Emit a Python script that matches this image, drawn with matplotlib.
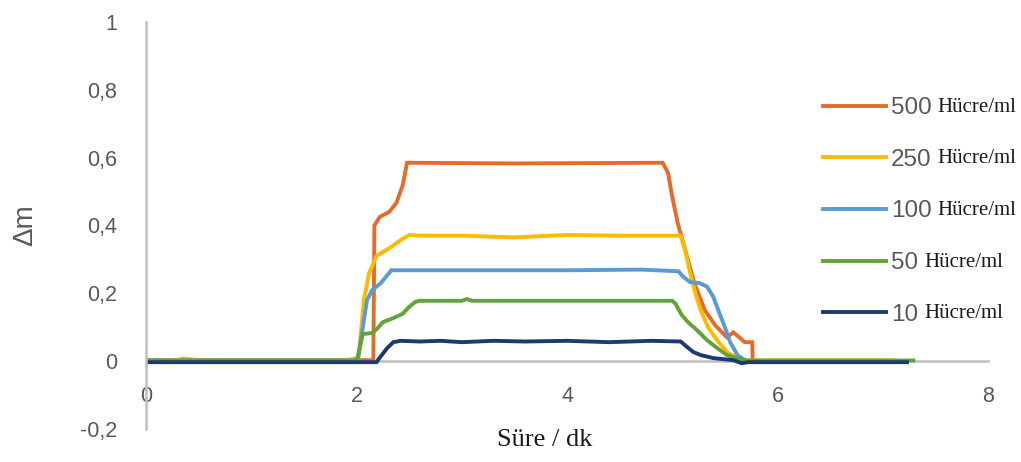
import matplotlib
matplotlib.use("Agg")
import matplotlib.pyplot as plt
from matplotlib.lines import Line2D

# series (time in min, delta m)
t_500 = [0, 0.4, 0.45, 2.16, 2.17, 2.22, 2.31, 2.38, 2.44, 2.48, 3.5, 4.91, 4.96, 5.00, 5.05, 5.13, 5.21, 5.31, 5.41, 5.52, 5.58, 5.69, 5.76, 5.765, 6.1]
dm_500 = [0.003, 0.003, 0.003, 0.003, 0.40, 0.425, 0.44, 0.467, 0.52, 0.585, 0.583, 0.585, 0.555, 0.485, 0.41, 0.32, 0.23, 0.15, 0.105, 0.07, 0.085, 0.056, 0.056, 0.0, 0.0]

t_250 = [0, 0.3, 0.35, 0.5, 1.9, 2.02, 2.07, 2.12, 2.19, 2.33, 2.42, 2.5, 2.6, 3.0, 3.5, 4.0, 4.5, 5.08, 5.12, 5.17, 5.22, 5.27, 5.34, 5.43, 5.53, 5.62, 5.7, 7.1]
dm_250 = [0.003, 0.003, 0.008, 0.003, 0.003, 0.01, 0.18, 0.26, 0.31, 0.337, 0.357, 0.372, 0.37, 0.37, 0.365, 0.372, 0.37, 0.37, 0.33, 0.26, 0.20, 0.15, 0.10, 0.06, 0.024, 0.01, 0.002, 0.002]

t_100 = [0, 2.01, 2.05, 2.10, 2.15, 2.23, 2.31, 2.33, 3.0, 4.0, 4.7, 5.06, 5.10, 5.17, 5.26, 5.33, 5.39, 5.45, 5.50, 5.55, 5.62, 5.70, 6.85]
dm_100 = [0.002, 0.002, 0.08, 0.18, 0.21, 0.23, 0.26, 0.268, 0.268, 0.268, 0.27, 0.265, 0.25, 0.233, 0.23, 0.22, 0.19, 0.14, 0.10, 0.056, 0.018, 0.0, 0.0]

t_50 = [0, 2.0, 2.01, 2.06, 2.15, 2.2, 2.25, 2.35, 2.44, 2.5, 2.56, 2.6, 3.0, 3.05, 3.1, 4.0, 5.0, 5.03, 5.09, 5.15, 5.24, 5.33, 5.43, 5.52, 5.62, 5.72, 7.29]
dm_50 = [0.002, 0.002, 0.01, 0.08, 0.083, 0.097, 0.115, 0.127, 0.14, 0.16, 0.175, 0.178, 0.178, 0.183, 0.178, 0.178, 0.178, 0.17, 0.136, 0.115, 0.09, 0.062, 0.038, 0.018, 0.008, 0.002, 0.002]

t_10 = [0, 2.19, 2.22, 2.29, 2.35, 2.42, 2.6, 2.8, 3.0, 3.3, 3.6, 4.0, 4.4, 4.8, 5.08, 5.14, 5.20, 5.27, 5.39, 5.58, 5.66, 5.72, 7.23]
dm_10 = [-0.003, -0.003, 0.01, 0.038, 0.056, 0.06, 0.058, 0.06, 0.056, 0.06, 0.058, 0.06, 0.056, 0.06, 0.058, 0.042, 0.027, 0.018, 0.009, 0.003, -0.006, -0.003, -0.003]

labels = ["500", "250", "100", "50", "10"]
unit = "Hücre/ml"
colors = ["#E46C2A", "#FFB900", "#5B9BD5", "#63A33A", "#1F3A6E"]
series = [(t_500, dm_500), (t_250, dm_250), (t_100, dm_100), (t_50, dm_50), (t_10, dm_10)]

xticks = [0, 2, 4, 6, 8]
yticks = [-0.2, 0, 0.2, 0.4, 0.6, 0.8, 1]
ytick_labels = ["-0,2", "0", "0,2", "0,4", "0,6", "0,8", "1"]

gray = "#595959"
axis_gray = "#BFBFBF"

fig = plt.figure(figsize=(10.21, 4.62), dpi=100)
ax = fig.add_axes([146 / 1021, 1 - 429 / 462, 842 / 1021, 407 / 462])

handles = []
for (t, dm), c in zip(series, colors):
    ax.plot(t, dm, color=c, lw=2.8, solid_joinstyle="miter")
    handles.append(Line2D([], [], color=c, lw=2.8))

ax.set_xlim(0, 8)
ax.set_ylim(-0.2, 1)
ax.spines["top"].set_visible(False)
ax.spines["right"].set_visible(False)
ax.spines["bottom"].set_position(("data", 0))
ax.spines["bottom"].set_color(axis_gray)
ax.spines["left"].set_color(axis_gray)
ax.spines["bottom"].set_linewidth(1.8)
ax.spines["left"].set_linewidth(1.8)
ax.spines["bottom"].set_zorder(0.5)

ax.set_xticks(xticks)
ax.set_xticklabels([str(x) for x in xticks])
ax.set_yticks(yticks)
ax.set_yticklabels(ytick_labels)
ax.tick_params(axis="x", length=0, pad=18, labelsize=15.5, labelcolor=gray)
ax.tick_params(axis="y", length=0, pad=21, labelsize=15.5, labelcolor=gray)
for lab in ax.get_xticklabels() + ax.get_yticklabels():
    lab.set_fontfamily("Liberation Sans")

ax.set_xlabel("Süre / dk", fontfamily="Liberation Serif", fontsize=19, color="#1a1a1a")
ax.xaxis.set_label_coords(0.474, 0.0)
ax.set_ylabel("Δm", fontfamily="Liberation Sans", fontsize=20, color=gray)
ax.yaxis.set_label_coords(-0.128, 0.5)

leg = ax.legend(handles, labels, loc="upper left", bbox_to_anchor=(823 / 1021, 1 - 97 / 462),
                bbox_transform=fig.transFigure, frameon=False, borderpad=0, borderaxespad=0,
                handlelength=2.6, handletextpad=0.2, labelspacing=1.22,
                prop={"family": "Liberation Sans", "size": 17.5})
for txt in leg.get_texts():
    txt.set_color(gray)

# unit text in a serif font right after each legend number
fig.canvas.draw()
inv = fig.transFigure.inverted()
for txt in leg.get_texts():
    bb = txt.get_window_extent()
    x0, y0 = inv.transform((bb.x1 + 6, (bb.y0 + bb.y1) / 2 + 1))
    fig.text(x0, y0, unit, va="center", ha="left", fontfamily="Liberation Serif",
             fontsize=15, color="#1a1a1a")

fig.savefig("out.png", dpi=100)
